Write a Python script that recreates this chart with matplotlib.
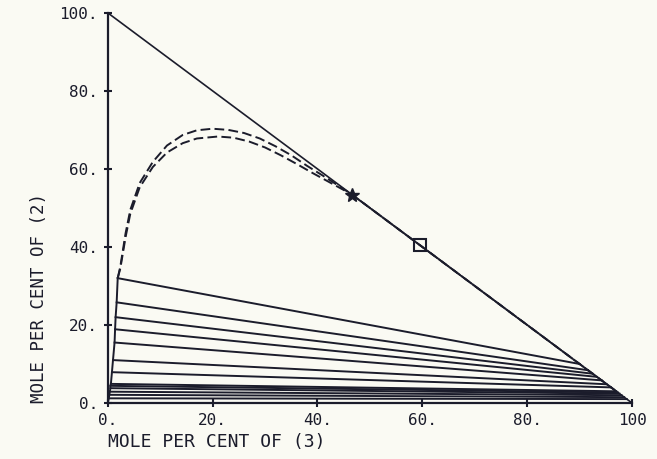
import numpy as np
import matplotlib
matplotlib.use("Agg")
import matplotlib.pyplot as plt

# tie lines: left end (x3, x2) and right end (x3, x2), in mole per cent
tie_left_x = [1.9, 1.7, 1.5, 1.4, 1.3, 1.0, 0.8, 0.6, 0.5, 0.5, 0.4, 0.3, 0.2]
tie_left_y = [32.0, 25.8, 22.0, 18.9, 15.5, 11.0, 7.9, 4.9, 4.4, 3.8, 2.9, 2.1, 1.2]
tie_right_x = [90.0, 91.6, 92.5, 93.3, 94.2, 95.2, 96.0, 97.0, 97.3, 97.6, 98.0, 98.5, 99.0]
tie_right_y = [10.0, 8.4, 7.5, 6.7, 5.8, 4.8, 4.0, 3.0, 2.7, 2.4, 2.0, 1.5, 1.0]

# two dashed binodal curves (upper and lower)
upper_x = [1.9, 2.4, 3.4, 4.3, 6.1, 8.6, 11.3, 14.3, 17.0, 20.0, 23.0, 26.0, 29.0,
           32.0, 35.0, 38.0, 41.0, 44.0, 46.5, 50.0, 60.0, 80.0, 97.0]
upper_y = [32.0, 35.0, 43.5, 49.5, 56.4, 61.8, 66.0, 68.7, 69.9, 70.3, 70.0, 69.2, 67.8,
           65.8, 63.5, 60.8, 58.3, 55.7, 53.5, 50.0, 40.0, 20.0, 3.0]
lower_x = [1.9, 2.4, 3.4, 4.3, 6.1, 8.6, 11.3, 14.3, 17.0, 21.0, 24.0, 27.0, 30.0,
           33.0, 36.0, 39.0, 42.0, 45.0, 46.5, 50.0, 60.0, 80.0, 97.0]
lower_y = [32.0, 34.5, 42.5, 48.5, 55.3, 60.5, 64.2, 66.6, 67.8, 68.3, 68.0, 67.0, 65.5,
           63.5, 61.3, 59.0, 56.8, 54.6, 53.5, 50.0, 40.0, 20.0, 3.0]

# points marked on the hypotenuse
star_pt = (46.6, 53.4)
square_pt = (59.5, 40.5)

ticks = [0, 20, 40, 60, 80, 100]
xtick_labels = ["0.", "20.", "40.", "60.", "80.", "100"]
ytick_labels = ["0.", "20.", "40.", "60.", "80.", "100."]

ink = "#1b1c2b"
paper = "#fafaf3"
plt.rcParams["font.family"] = ["DejaVu Sans Mono"]

fig = plt.figure(figsize=(6.57, 4.59), dpi=100, facecolor=paper)
ax = fig.add_axes([0.164, 0.122, 0.798, 0.850])
ax.set_facecolor(paper)

# triangle edge (hypotenuse)
ax.plot([0, 100], [100, 0], color=ink, lw=1.2, solid_capstyle="butt")

# left solid branch through the tie line ends
ax.plot(tie_left_x + [0.0], tie_left_y + [0.0], color=ink, lw=1.4)

for lx, ly, rx, ry in zip(tie_left_x, tie_left_y, tie_right_x, tie_right_y):
    ax.plot([lx, rx], [ly, ry], color=ink, lw=1.4)

ax.plot(upper_x, upper_y, color=ink, lw=1.4, dashes=(5, 2.2))
ax.plot(lower_x, lower_y, color=ink, lw=1.4, dashes=(5, 2.2))

ax.plot(*star_pt, marker="*", ms=10, color=ink)
ax.plot(*square_pt, marker="s", ms=9, mfc="none", mec=ink, mew=1.5)

ax.set_xlim(0, 100)
ax.set_ylim(0, 100)
ax.set_xticks(ticks)
ax.set_xticklabels(xtick_labels)
ax.set_yticks(ticks)
ax.set_yticklabels(ytick_labels)
for side in ["top", "right"]:
    ax.spines[side].set_visible(False)
for side in ["left", "bottom"]:
    ax.spines[side].set_color(ink)
    ax.spines[side].set_linewidth(1.6)
ax.tick_params(direction="inout", length=6, width=1.5, colors=ink, labelsize=11.5, pad=4)

ax.set_xlabel("MOLE PER CENT OF (3)", loc="left", fontsize=13, color=ink, labelpad=4)
ax.set_ylabel("MOLE PER CENT OF (2)", loc="bottom", fontsize=12.5, color=ink, labelpad=8)

fig.savefig("out.png", dpi=100, facecolor=paper)
